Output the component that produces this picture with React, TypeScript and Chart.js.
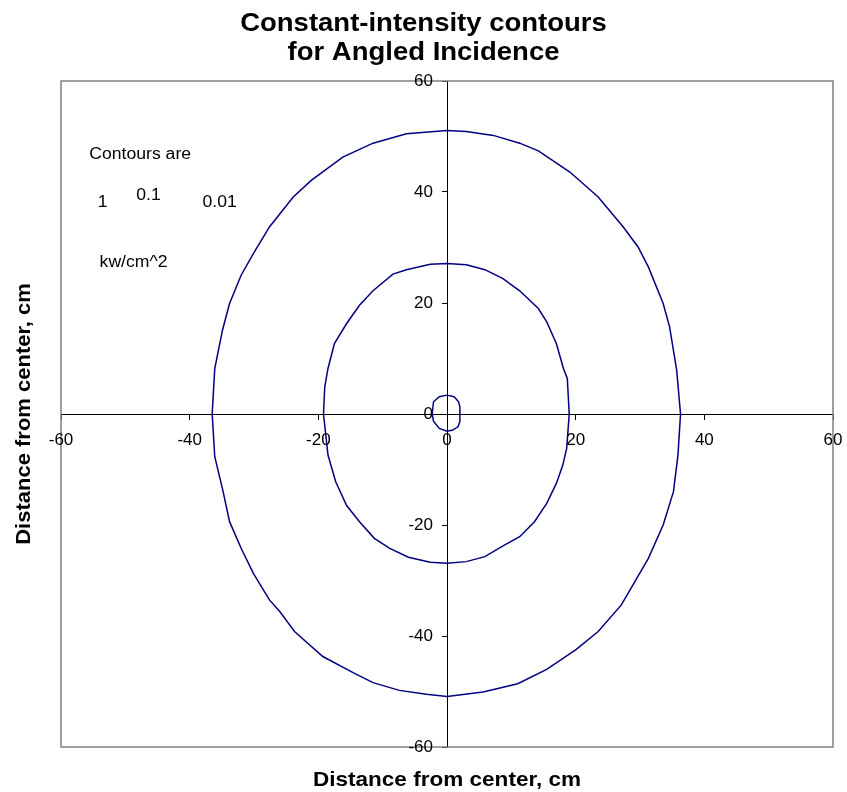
import React, { useEffect, useRef } from "react";
import { Chart, registerables } from "chart.js";

Chart.register(...registerables);

// Contour 0.01 kW/cm^2 (outer)
const outerX = [0, 3.0, 7.2, 11.3, 14.2, 19.1, 23.5, 27.4, 29.7, 31.3, 33.6, 34.6, 35.7, 36.3,
  35.9, 35.2, 33.6, 31.3, 27.1, 23.5, 20.1, 15.5, 11.0, 5.6, 0,
  -3.2, -7.4, -11.5, -14.6, -19.3, -23.7, -26.0, -27.6, -30.1, -32.0, -33.8, -34.8, -36.1, -36.5,
  -36.1, -34.9, -33.8, -32.0, -30.1, -27.6, -23.9, -21.1, -16.2, -11.5, -6.3, 0];
const outerY = [51.1, 50.9, 50.2, 48.8, 47.4, 43.6, 39.1, 33.7, 30.1, 26.5, 19.9, 15.7, 7.9, 0,
  -7.4, -14.0, -20.0, -26.0, -34.4, -39.2, -42.4, -46.0, -48.6, -50.1, -50.9,
  -50.5, -49.8, -48.4, -46.6, -43.7, -39.2, -35.6, -33.5, -28.7, -24.2, -19.4, -14.0, -7.7, 0,
  8.2, 15.1, 19.9, 25.0, 28.9, 33.7, 39.1, 42.1, 46.3, 48.8, 50.5, 51.1];

// Contour 0.1 kW/cm^2 (middle)
const innerX = [0, 3.0, 5.9, 8.7, 11.3, 14.2, 15.5, 17.0, 18.1, 18.7, 19.0,
  18.6, 18.0, 17.0, 15.5, 13.6, 11.3, 8.5, 5.9, 3.0, 0,
  -2.6, -6.0, -8.9, -11.3, -13.6, -15.6, -17.3, -18.5, -19.2,
  -19.0, -18.5, -17.5, -15.6, -13.6, -11.5, -8.4, -6.3, -2.6, 0];
const innerY = [27.1, 26.9, 26.0, 24.4, 22.2, 19.0, 16.6, 12.7, 8.2, 6.4, 0,
  -6.2, -9.2, -12.5, -16.1, -19.4, -22.1, -23.9, -25.7, -26.6, -26.9,
  -26.7, -25.8, -24.2, -22.4, -19.4, -16.5, -12.2, -7.4, 0,
  4.9, 8.2, 12.7, 16.3, 19.6, 22.2, 25.2, 26.0, 27.0, 27.1];

// Contour 1 kW/cm^2 (small)
const smallX = [0, 1.1, 1.8, 2.0, 2.0, 1.7, 0.9, 0, -1.2, -2.1, -2.3, -2.1, -1.2, 0];
const smallY = [3.4, 3.1, 2.2, 1.3, -1.4, -2.3, -2.9, -3.1, -2.6, -1.3, 0, 2.2, 3.1, 3.4];

const titleLines = ["Constant-intensity contours", "for Angled Incidence"];
const xTitle = "Distance from center, cm";
const yTitle = "Distance from center, cm";

// Annotation texts and their anchor positions (data coordinates)
const noteTexts = ["Contours are", "1", "0.1", "0.01", "kw/cm^2"];
const noteX = [-55.6, -54.3, -48.3, -38.0, -54.0];
const noteY = [45.9, 37.3, 38.6, 37.3, 26.5];

const FONT = 'Arial, "Liberation Sans", sans-serif';
const LINE_COLOR = "#000080";

function toPoints(xs: number[], ys: number[]) {
  return xs.map((x, i) => ({ x, y: ys[i] }));
}

function stretchText(
  ctx: CanvasRenderingContext2D,
  text: string,
  x: number,
  y: number,
  font: string,
  align: CanvasTextAlign,
  sx: number,
  rotate = 0,
  baseline: CanvasTextBaseline = "alphabetic"
) {
  ctx.save();
  ctx.translate(x, y);
  if (rotate) ctx.rotate(rotate);
  ctx.scale(sx, 1);
  ctx.font = font;
  ctx.textAlign = align;
  ctx.textBaseline = baseline;
  ctx.fillStyle = "#000";
  ctx.fillText(text, 0, 0);
  ctx.restore();
}

const decorPlugin = {
  id: "decor",
  beforeDatasetsDraw(chart: any) {
    const { ctx, chartArea } = chart;
    ctx.save();
    ctx.strokeStyle = "#808080";
    ctx.lineWidth = 1.5;
    ctx.strokeRect(chartArea.left, chartArea.top, chartArea.right - chartArea.left, chartArea.bottom - chartArea.top);
    ctx.restore();
  },
  afterDraw(chart: any) {
    const { ctx, chartArea, width } = chart;
    const xs = chart.scales.x;
    const ys = chart.scales.y;
    // tick labels beside the zero axes
    const axisX = xs.getPixelForValue(0);
    const axisY = ys.getPixelForValue(0);
    ys.ticks.forEach((t: any) => {
      stretchText(ctx, String(t.value), axisX - 14, ys.getPixelForValue(t.value), `17px ${FONT}`, "right", 1, 0, "middle");
    });
    xs.ticks.forEach((t: any) => {
      stretchText(ctx, String(t.value), xs.getPixelForValue(t.value), axisY + 26, `17px ${FONT}`, "center", 1, 0, "middle");
    });
    stretchText(ctx, titleLines[0], width / 2, 31, `bold 25px ${FONT}`, "center", 1.1);
    stretchText(ctx, titleLines[1], width / 2, 60, `bold 25px ${FONT}`, "center", 1.1);
    const cx = (chartArea.left + chartArea.right) / 2;
    const cy = (chartArea.top + chartArea.bottom) / 2;
    stretchText(ctx, xTitle, cx, 786, `bold 20.5px ${FONT}`, "center", 1.1);
    stretchText(ctx, yTitle, 30, cy, `bold 20px ${FONT}`, "center", 1.1, -Math.PI / 2);
    noteTexts.forEach((t, i) => {
      stretchText(ctx, t, xs.getPixelForValue(noteX[i]), ys.getPixelForValue(noteY[i]), `16px ${FONT}`, "left", 1.1);
    });
  },
};

export default function App() {
  const ref = useRef<HTMLCanvasElement | null>(null);
  useEffect(() => {
    document.body.style.margin = "0";
    document.body.style.overflow = "hidden";
    const canvas = ref.current;
    if (!canvas) return;
    const mk = (xs: number[], ys: number[], label: string) => ({
      label,
      data: toPoints(xs, ys),
      showLine: true,
      borderColor: LINE_COLOR,
      backgroundColor: LINE_COLOR,
      borderWidth: 1.5,
      pointRadius: 0,
      tension: 0,
      fill: false,
    });
    const chart = new Chart(canvas, {
      type: "scatter",
      data: {
        datasets: [
          mk(outerX, outerY, "0.01"),
          mk(innerX, innerY, "0.1"),
          mk(smallX, smallY, "1"),
        ],
      },
      options: {
        responsive: false,
        animation: false,
        devicePixelRatio: 1,
        layout: { padding: { left: 61, top: 81, right: 14, bottom: 45 } },
        plugins: { legend: { display: false }, tooltip: { enabled: false }, title: { display: false } },
        scales: {
          x: {
            type: "linear",
            min: -60,
            max: 60,
            position: { y: 0 } as any,
            ticks: { stepSize: 20, display: false },
            grid: { drawOnChartArea: false, drawTicks: true, tickLength: 5, color: "#000" },
            border: { color: "#000", width: 1 },
          },
          y: {
            type: "linear",
            min: -60,
            max: 60,
            position: { x: 0 } as any,
            ticks: { stepSize: 20, display: false },
            grid: { drawOnChartArea: false, drawTicks: true, tickLength: 5, color: "#000" },
            border: { color: "#000", width: 1 },
          },
        },
      } as any,
      plugins: [decorPlugin],
    });
    return () => chart.destroy();
  }, []);
  return (
    <div style={{ width: 847, height: 792, background: "#fff" }}>
      <canvas ref={ref} width={847} height={792} style={{ display: "block" }} />
    </div>
  );
}
